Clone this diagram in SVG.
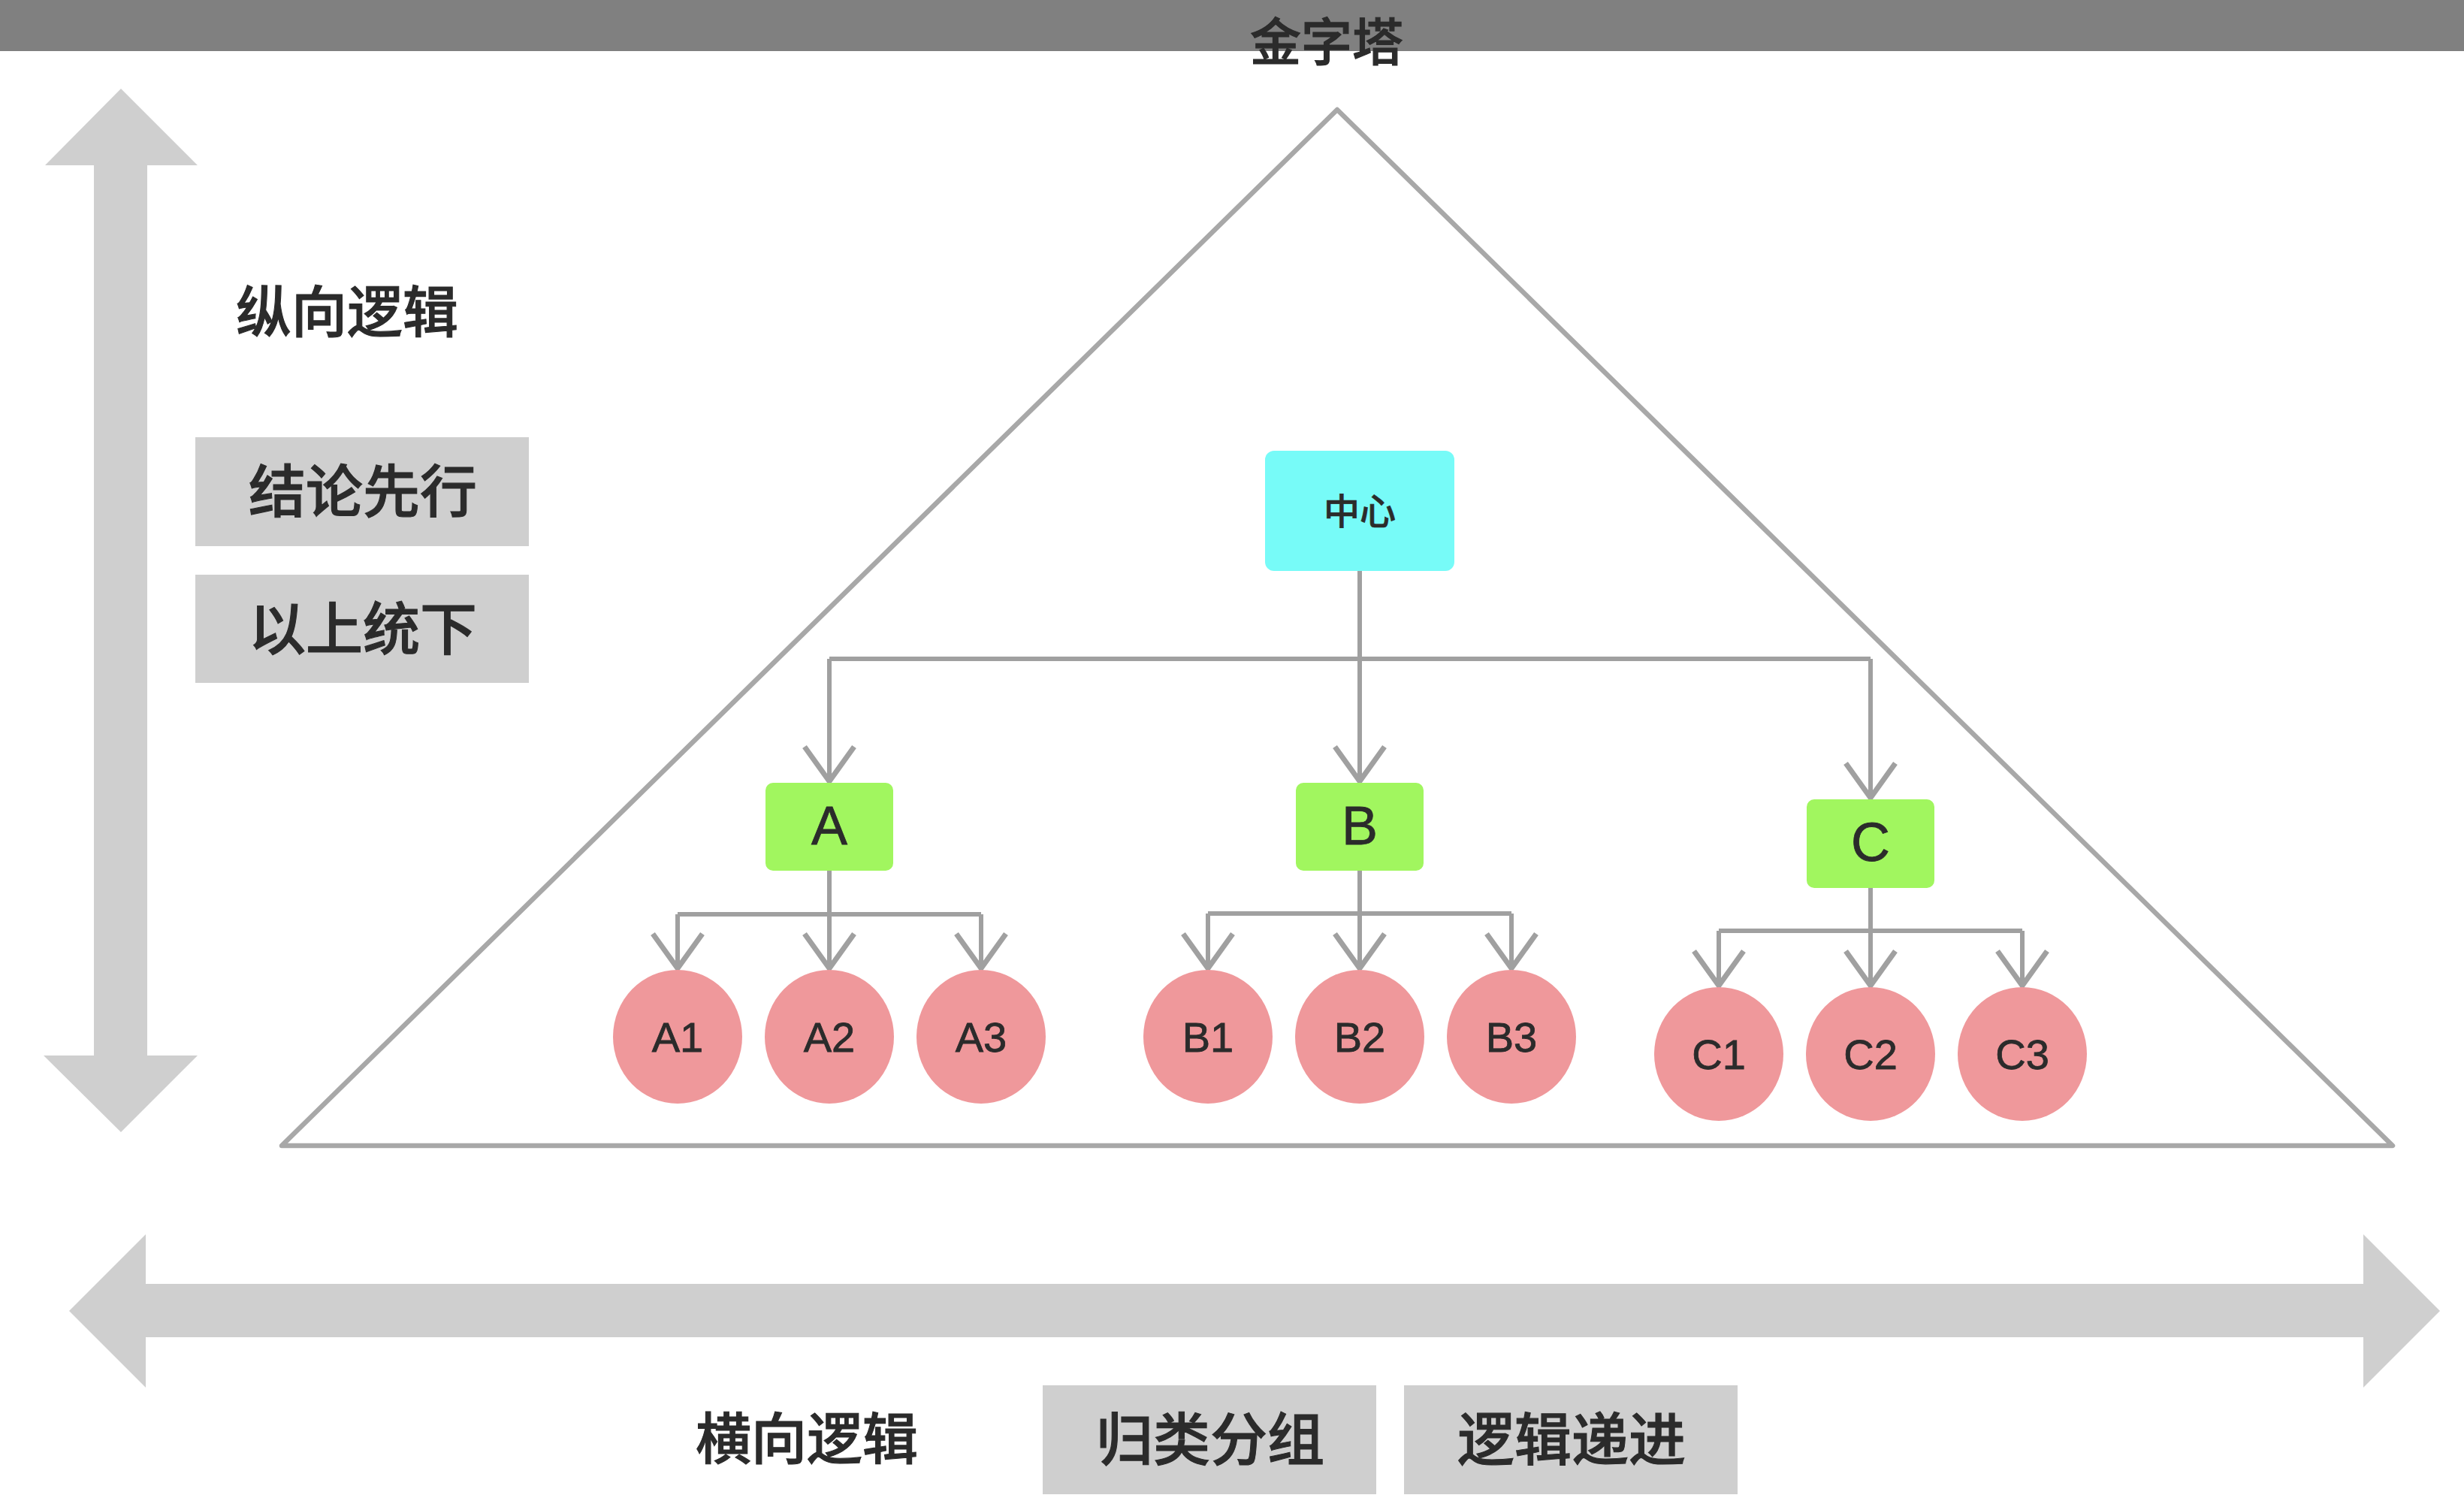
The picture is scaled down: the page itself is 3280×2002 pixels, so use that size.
<svg xmlns="http://www.w3.org/2000/svg" width="3280" height="2002" viewBox="0 0 3280 2002">
  <style>
    .cjk { font-family: "Noto Sans CJK SC Medium", "Noto Sans CJK SC", "Noto Sans", sans-serif; fill: #2b2b2b; stroke: #2b2b2b; stroke-width: 1.1; font-weight: 500; text-anchor: middle; }
    .lat { font-family: "Liberation Sans", Arial, sans-serif; fill: #2b2b2b; stroke: #2b2b2b; stroke-width: 0.8; text-anchor: middle; }
    .band { fill: #cfcfcf; }
    .tag { fill: #cfcfcf; }
    .root { fill: #77fbf8; }
    .group { fill: #a1f65f; }
    .leaf { fill: #ef989b; }
    .wire { fill: none; stroke: #a0a0a0; stroke-width: 6; marker-end: url(#chev); }
    .wire-plain { fill: none; stroke: #a0a0a0; stroke-width: 6; }
  </style>
  <defs>
    <marker id="chev" markerUnits="userSpaceOnUse" markerWidth="100" markerHeight="100" orient="auto" refX="0" refY="0" overflow="visible">
      <path d="M -46 -33 L 0 0 L -46 33" fill="none" stroke="#a0a0a0" stroke-width="7"/>
    </marker>
  </defs>

  <rect width="3280" height="2002" fill="#ffffff"/>

  <!-- title bar -->
  <rect x="0" y="0" width="3280" height="68" fill="#808080"/>
  <text class="cjk" x="1766" y="81" font-size="68">金字塔</text>

  <!-- vertical double arrow -->
  <polygon class="band" points="161,118 263,220 196,220 196,1405 263,1405 161,1507 58,1405 125,1405 125,220 60,220"/>
  <!-- horizontal double arrow -->
  <polygon class="band" points="92,1745 194,1643 194,1709 3146,1709 3146,1643 3248,1745 3146,1847 3146,1780 194,1780 194,1847"/>

  <!-- pyramid outline -->
  <polygon points="1780,146 3185,1525 375,1525" fill="none" stroke="#a8a8a8" stroke-width="6.5" stroke-linejoin="round"/>

  <!-- vertical logic -->
  <g id="vertical-logic">
    <text class="cjk" x="462" y="442" font-size="74">纵向逻辑</text>
  </g>
  <g id="tag-conclusion-first">
    <rect class="tag" x="260" y="582" width="444" height="145"/>
    <text class="cjk" x="483" y="682" font-size="76">结论先行</text>
  </g>
  <g id="tag-top-down">
    <rect class="tag" x="260" y="765" width="444" height="144"/>
    <text class="cjk" x="483" y="865" font-size="76">以上统下</text>
  </g>

  <!-- horizontal logic -->
  <g id="horizontal-logic">
    <text class="cjk" x="1074" y="1942" font-size="74">横向逻辑</text>
  </g>
  <g id="tag-grouping">
    <rect class="tag" x="1388" y="1844" width="444" height="145"/>
    <text class="cjk" x="1611" y="1944" font-size="76">归类分组</text>
  </g>
  <g id="tag-progression">
    <rect class="tag" x="1869" y="1844" width="444" height="145"/>
    <text class="cjk" x="2092" y="1944" font-size="76">逻辑递进</text>
  </g>

  <!-- connectors -->
  <g id="connectors">
    <path class="wire-plain" d="M1810 760 V877"/>
    <path class="wire-plain" d="M1104 877 H2490"/>
    <path class="wire" d="M1104 877 V1040"/>
    <path class="wire" d="M1810 877 V1040"/>
    <path class="wire" d="M2490 877 V1062"/>

    <path class="wire-plain" d="M1104 1159 V1217 M902 1217 H1306"/>
    <path class="wire" d="M902 1217 V1289"/>
    <path class="wire" d="M1104 1217 V1289"/>
    <path class="wire" d="M1306 1217 V1289"/>

    <path class="wire-plain" d="M1810 1159 V1216 M1608 1216 H2012"/>
    <path class="wire" d="M1608 1216 V1289"/>
    <path class="wire" d="M1810 1216 V1289"/>
    <path class="wire" d="M2012 1216 V1289"/>

    <path class="wire-plain" d="M2490 1182 V1239 M2288 1239 H2692"/>
    <path class="wire" d="M2288 1239 V1312"/>
    <path class="wire" d="M2490 1239 V1312"/>
    <path class="wire" d="M2692 1239 V1312"/>
  </g>

  <!-- root -->
  <g id="node-center">
    <rect class="root" x="1684" y="600" width="252" height="160" rx="12"/>
    <text class="cjk" x="1810" y="698" font-size="48" style="stroke-width:0.7">中心</text>
  </g>

  <!-- groups -->
  <g id="node-A">
    <rect class="group" x="1019" y="1042" width="170" height="117" rx="10"/>
    <text class="lat" x="1104" y="1124" font-size="72">A</text>
  </g>
  <g id="node-B">
    <rect class="group" x="1725" y="1042" width="170" height="117" rx="10"/>
    <text class="lat" x="1810" y="1124" font-size="72">B</text>
  </g>
  <g id="node-C">
    <rect class="group" x="2405" y="1064" width="170" height="118" rx="10"/>
    <text class="lat" x="2490" y="1146" font-size="72">C</text>
  </g>

  <!-- leaves -->
  <g id="node-A1"><ellipse class="leaf" cx="902" cy="1380" rx="86" ry="89"/><text class="lat" x="902" y="1400" font-size="56">A1</text></g>
  <g id="node-A2"><ellipse class="leaf" cx="1104" cy="1380" rx="86" ry="89"/><text class="lat" x="1104" y="1400" font-size="56">A2</text></g>
  <g id="node-A3"><ellipse class="leaf" cx="1306" cy="1380" rx="86" ry="89"/><text class="lat" x="1306" y="1400" font-size="56">A3</text></g>

  <g id="node-B1"><ellipse class="leaf" cx="1608" cy="1380" rx="86" ry="89"/><text class="lat" x="1608" y="1400" font-size="56">B1</text></g>
  <g id="node-B2"><ellipse class="leaf" cx="1810" cy="1380" rx="86" ry="89"/><text class="lat" x="1810" y="1400" font-size="56">B2</text></g>
  <g id="node-B3"><ellipse class="leaf" cx="2012" cy="1380" rx="86" ry="89"/><text class="lat" x="2012" y="1400" font-size="56">B3</text></g>

  <g id="node-C1"><ellipse class="leaf" cx="2288" cy="1403" rx="86" ry="89"/><text class="lat" x="2288" y="1423" font-size="56">C1</text></g>
  <g id="node-C2"><ellipse class="leaf" cx="2490" cy="1403" rx="86" ry="89"/><text class="lat" x="2490" y="1423" font-size="56">C2</text></g>
  <g id="node-C3"><ellipse class="leaf" cx="2692" cy="1403" rx="86" ry="89"/><text class="lat" x="2692" y="1423" font-size="56">C3</text></g>
</svg>
